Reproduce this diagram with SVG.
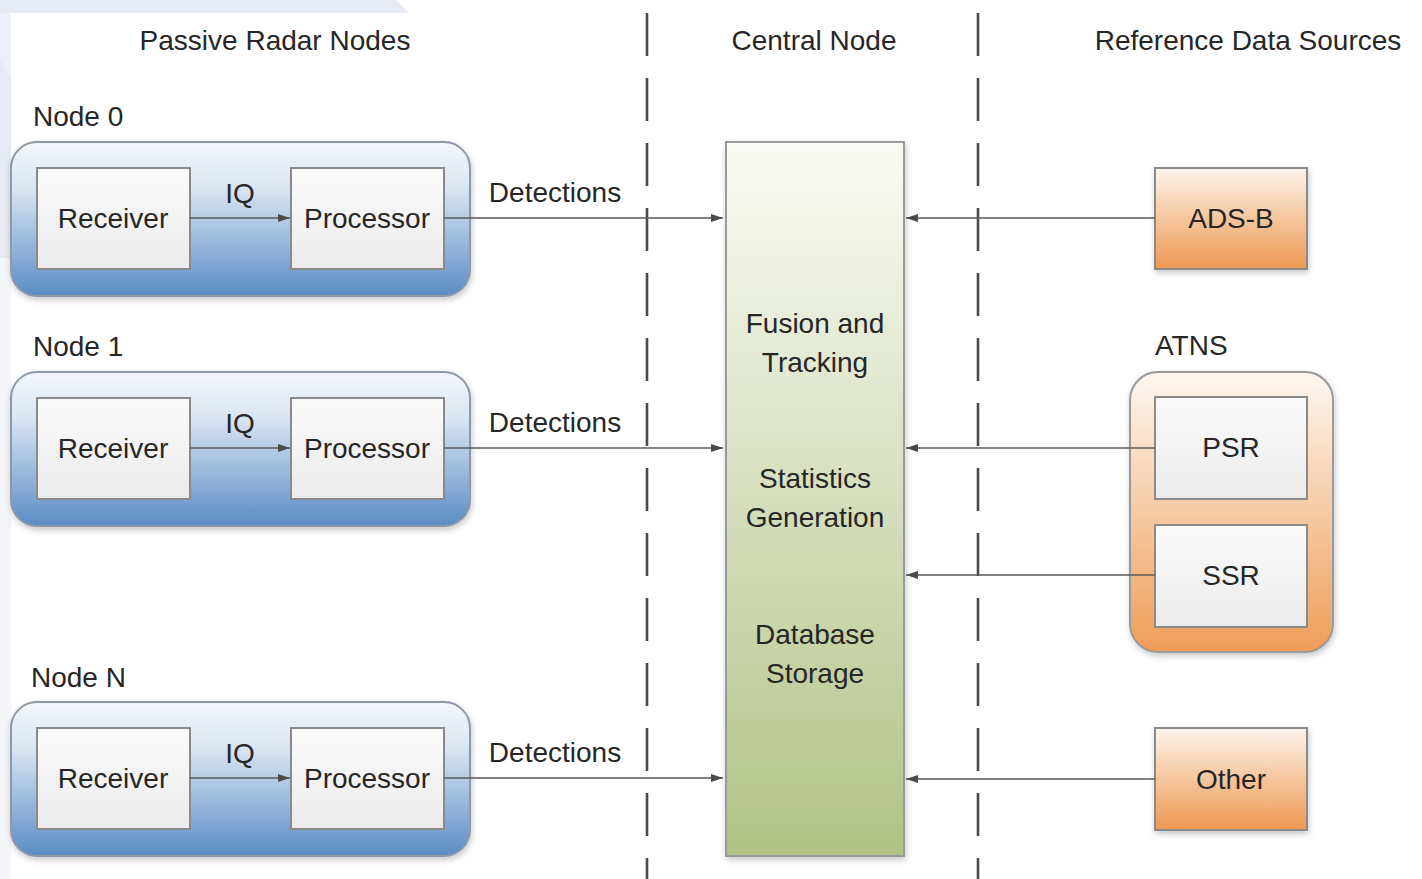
<svg xmlns="http://www.w3.org/2000/svg" width="1422" height="879" viewBox="0 0 1422 879">
  <style>
    text { font-family: "Liberation Sans", Arial, sans-serif; font-size: 28px; fill: #262626; }
    .mid { text-anchor: middle; }
    .container { stroke: #8d99a8; stroke-width: 2; }
    .box { fill: url(#boxGrad); stroke: #8a8a8a; stroke-width: 2; }
    .conn { stroke: #5a5a5a; stroke-width: 1.6; fill: none; }
    .divider { stroke: #4a4a4a; stroke-width: 2.6; stroke-dasharray: 43 22; fill: none; }
  </style>
  <defs>
    <linearGradient id="blueGrad" x1="0" y1="0" x2="0" y2="1">
      <stop offset="0" stop-color="#f4f7fb"/>
      <stop offset="0.3" stop-color="#d9e5f2"/>
      <stop offset="1" stop-color="#5a8cc5"/>
    </linearGradient>
    <linearGradient id="boxGrad" x1="0" y1="0" x2="0" y2="1">
      <stop offset="0" stop-color="#fbfbfb"/>
      <stop offset="1" stop-color="#ebebeb"/>
    </linearGradient>
    <linearGradient id="greenGrad" x1="0" y1="0" x2="0" y2="1">
      <stop offset="0" stop-color="#fafbf6"/>
      <stop offset="1" stop-color="#b2c285"/>
    </linearGradient>
    <linearGradient id="orangeGrad" x1="0" y1="0" x2="0" y2="1">
      <stop offset="0" stop-color="#fdf4ec"/>
      <stop offset="1" stop-color="#ee9850"/>
    </linearGradient>
    <linearGradient id="atnsGrad" x1="0" y1="0" x2="0" y2="1">
      <stop offset="0" stop-color="#fdf7f1"/>
      <stop offset="1" stop-color="#ef9d57"/>
    </linearGradient>
    <filter id="shadow" x="-10%" y="-10%" width="120%" height="130%">
      <feDropShadow dx="1" dy="3" stdDeviation="3" flood-color="#000" flood-opacity="0.22"/>
    </filter>
    <marker id="arrow" markerUnits="userSpaceOnUse" markerWidth="12" markerHeight="8" refX="12" refY="4" orient="auto">
      <path d="M0,0 L12,4 L0,8 z" fill="#4a4a4a"/>
    </marker>
  </defs>

  <!-- page background with pale corner band -->
  <rect x="0" y="0" width="1422" height="879" fill="#ffffff"/>
  <polygon points="0,0 396,0 409,13 11,13 11,258 0,258" fill="#e5eaf3"/>
  <polygon points="0,13 11,13 11,78 0,60" fill="#edf0f6"/>
  <rect x="0" y="258" width="11" height="621" fill="#f3f5f9"/>

  <!-- column dividers -->
  <g id="dividers">
    <line class="divider" x1="647" y1="13" x2="647" y2="879"/>
    <line class="divider" x1="978" y1="13" x2="978" y2="879"/>
  </g>

  <!-- column headings -->
  <g id="headings">
    <text class="mid" x="275" y="50">Passive Radar Nodes</text>
    <text class="mid" x="814" y="50">Central Node</text>
    <text class="mid" x="1248" y="50">Reference Data Sources</text>
  </g>

  <!-- passive radar node 0 -->
  <g id="node0">
    <text x="33" y="126">Node 0</text>
    <rect class="container" x="11" y="142" width="459" height="154" rx="26" fill="url(#blueGrad)" filter="url(#shadow)"/>
    <rect class="box" x="37" y="168" width="153" height="101"/>
    <text class="mid" x="113" y="228">Receiver</text>
    <rect class="box" x="291" y="168" width="153" height="101"/>
    <text class="mid" x="367" y="228">Processor</text>
    <text class="mid" x="240" y="203">IQ</text>
  </g>

  <!-- passive radar node 1 -->
  <g id="node1">
    <text x="33" y="356">Node 1</text>
    <rect class="container" x="11" y="372" width="459" height="154" rx="26" fill="url(#blueGrad)" filter="url(#shadow)"/>
    <rect class="box" x="37" y="398" width="153" height="101"/>
    <text class="mid" x="113" y="458">Receiver</text>
    <rect class="box" x="291" y="398" width="153" height="101"/>
    <text class="mid" x="367" y="458">Processor</text>
    <text class="mid" x="240" y="433">IQ</text>
  </g>

  <!-- passive radar node N -->
  <g id="nodeN">
    <text x="31" y="687">Node N</text>
    <rect class="container" x="11" y="702" width="459" height="154" rx="26" fill="url(#blueGrad)" filter="url(#shadow)"/>
    <rect class="box" x="37" y="728" width="153" height="101"/>
    <text class="mid" x="113" y="788">Receiver</text>
    <rect class="box" x="291" y="728" width="153" height="101"/>
    <text class="mid" x="367" y="788">Processor</text>
    <text class="mid" x="240" y="763">IQ</text>
  </g>

  <!-- central node -->
  <g id="central">
    <rect x="726" y="142" width="178" height="714" fill="url(#greenGrad)" stroke="#9a9a9a" stroke-width="2" filter="url(#shadow)"/>
    <text class="mid" x="815" y="333">Fusion and</text>
    <text class="mid" x="815" y="372">Tracking</text>
    <text class="mid" x="815" y="488">Statistics</text>
    <text class="mid" x="815" y="527">Generation</text>
    <text class="mid" x="815" y="644">Database</text>
    <text class="mid" x="815" y="683">Storage</text>
  </g>

  <!-- reference sources -->
  <g id="adsb">
    <rect x="1155" y="168" width="152" height="101" fill="url(#orangeGrad)" stroke="#8a8a8a" stroke-width="2" filter="url(#shadow)"/>
    <text class="mid" x="1231" y="228">ADS-B</text>
  </g>

  <g id="atns">
    <text x="1155" y="355">ATNS</text>
    <rect x="1130" y="372" width="203" height="280" rx="28" fill="url(#atnsGrad)" stroke="#9a9a9a" stroke-width="2" filter="url(#shadow)"/>
    <rect class="box" x="1155" y="397" width="152" height="102"/>
    <text class="mid" x="1231" y="457">PSR</text>
    <rect class="box" x="1155" y="525" width="152" height="102"/>
    <text class="mid" x="1231" y="585">SSR</text>
  </g>

  <g id="other">
    <rect x="1155" y="728" width="152" height="102" fill="url(#orangeGrad)" stroke="#8a8a8a" stroke-width="2" filter="url(#shadow)"/>
    <text class="mid" x="1231" y="789">Other</text>
  </g>

  <!-- connectors -->
  <g id="connectors">
    <line class="conn" x1="190" y1="218" x2="290" y2="218" marker-end="url(#arrow)"/>
    <line class="conn" x1="190" y1="448" x2="290" y2="448" marker-end="url(#arrow)"/>
    <line class="conn" x1="190" y1="778" x2="290" y2="778" marker-end="url(#arrow)"/>

    <line class="conn" x1="444" y1="218" x2="723" y2="218" marker-end="url(#arrow)"/>
    <line class="conn" x1="444" y1="448" x2="723" y2="448" marker-end="url(#arrow)"/>
    <line class="conn" x1="444" y1="778" x2="723" y2="778" marker-end="url(#arrow)"/>
    <text class="mid" x="555" y="202">Detections</text>
    <text class="mid" x="555" y="432">Detections</text>
    <text class="mid" x="555" y="762">Detections</text>

    <line class="conn" x1="1155" y1="218" x2="906" y2="218" marker-end="url(#arrow)"/>
    <line class="conn" x1="1155" y1="448" x2="906" y2="448" marker-end="url(#arrow)"/>
    <line class="conn" x1="1155" y1="575" x2="906" y2="575" marker-end="url(#arrow)"/>
    <line class="conn" x1="1155" y1="779" x2="906" y2="779" marker-end="url(#arrow)"/>
  </g>
</svg>
